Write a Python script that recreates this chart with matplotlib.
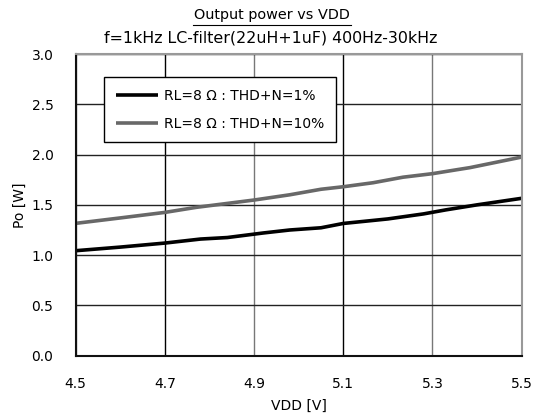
import matplotlib
matplotlib.use("Agg")
import matplotlib.pyplot as plt

plt.rcParams['font.family'] = ['DejaVu Sans']

title = "Output power vs VDD"
subtitle = "f=1kHz LC-filter(22uH+1uF) 400Hz-30kHz"
xlabel = "VDD [V]"
ylabel = "Po [W]"

vdd_thd1 = [4.5, 4.6, 4.7, 4.78, 4.84, 4.92, 4.98, 5.05, 5.1, 5.2, 5.28, 5.33, 5.4, 5.5]
po_thd1 = [1.044, 1.08, 1.12, 1.16, 1.175, 1.22, 1.25, 1.272, 1.315, 1.36, 1.41, 1.45, 1.50, 1.565]
label_thd1 = "RL=8 Ω : THD+N=1%"

vdd_thd10 = [4.5, 4.6, 4.7, 4.77, 4.9, 4.98, 5.05, 5.1, 5.167, 5.234, 5.3, 5.35, 5.384, 5.5]
po_thd10 = [1.316, 1.37, 1.425, 1.475, 1.548, 1.60, 1.655, 1.68, 1.72, 1.775, 1.81, 1.846, 1.87, 1.975]
label_thd10 = "RL=8 Ω : THD+N=10%"

xticks = [4.5, 4.7, 4.9, 5.1, 5.3, 5.5]
yticks = [0.0, 0.5, 1.0, 1.5, 2.0, 2.5, 3.0]

fig = plt.figure(figsize=(5.34, 4.17), dpi=100)
ax = fig.add_axes([0.1418, 0.147, 0.835, 0.7235])

ax.plot(vdd_thd1, po_thd1, color='#000000', lw=2.6, label=label_thd1, solid_capstyle='butt')
ax.plot(vdd_thd10, po_thd10, color='#686868', lw=2.6, label=label_thd10, solid_capstyle='butt')

ax.set_xlim(4.5, 5.5)
ax.set_ylim(0, 3.0)
ax.set_xticks(xticks)
ax.set_xticklabels([f"{v:.1f}" for v in xticks])
ax.set_yticks(yticks)
ax.set_yticklabels([f"{v:.1f}" for v in yticks])
ax.tick_params(length=0, labelsize=10)
ax.tick_params(axis='x', pad=15)
ax.tick_params(axis='y', pad=16)
ax.grid(True, lw=1.0)
gx = ax.xaxis.get_gridlines()
for i, g in enumerate(gx):
    g.set_color('#000000' if i % 2 == 1 else '#777777')
for g in ax.yaxis.get_gridlines():
    g.set_color('#222222')
for s in ['left', 'bottom']:
    ax.spines[s].set_color('#111111')
    ax.spines[s].set_linewidth(1.5)
for s in ['top', 'right']:
    ax.spines[s].set_color('#999999')
    ax.spines[s].set_linewidth(1.5)

ax.set_xlabel(xlabel, fontsize=10, labelpad=6)
ax.set_ylabel(ylabel, fontsize=10, labelpad=3)

fig.text(0.509, 0.963, title, ha='center', va='center', fontsize=10.4)
fig.text(0.506, 0.908, subtitle, ha='center', va='center', fontsize=11.4)
# underline for title
fig.add_artist(plt.Line2D([0.362, 0.657], [0.940, 0.940], color='black', lw=0.8, transform=fig.transFigure))

leg = ax.legend(loc='upper left', bbox_to_anchor=(0.0635, 0.924), borderaxespad=0,
                fancybox=False, edgecolor='black', framealpha=1, fontsize=10,
                handlelength=3.0, handletextpad=0.45, labelspacing=1.0,
                borderpad=0.85)
leg.get_frame().set_linewidth(1.0)

fig.savefig("out.png", dpi=100)
